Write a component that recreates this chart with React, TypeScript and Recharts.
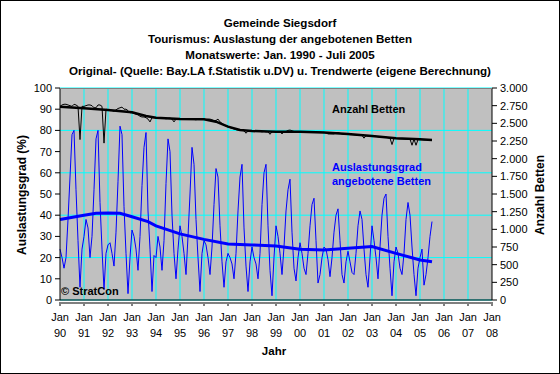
import React from 'react';
import {
  LineChart,
  Line,
  XAxis,
  YAxis,
  CartesianGrid,
  ReferenceLine,
} from 'recharts';

// Auslastungsgrad (%) monthly, Jan 1990 - Jul 2005
const RATE_1990 = [24, 20, 15, 20, 38, 58, 78, 80, 52, 28, 6, 24];
const RATE_1991 = [30, 38, 34, 20, 30, 52, 76, 80, 46, 24, 5, 22];
const RATE_1992 = [26, 27, 22, 16, 32, 56, 82, 78, 44, 22, 3, 20];
const RATE_1993 = [33, 30, 24, 14, 30, 54, 72, 79, 42, 24, 4, 21];
const RATE_1994 = [20, 30, 25, 14, 28, 55, 76, 70, 40, 22, 10, 24];
const RATE_1995 = [35, 30, 22, 12, 30, 50, 72, 64, 38, 20, 4, 22];
const RATE_1996 = [28, 26, 20, 12, 25, 45, 62, 58, 35, 18, 6, 18];
const RATE_1997 = [22, 20, 17, 10, 22, 42, 58, 64, 34, 16, 4, 18];
const RATE_1998 = [25, 20, 17, 10, 22, 45, 60, 64, 35, 14, 2, 20];
const RATE_1999 = [35, 30, 22, 12, 25, 42, 52, 57, 32, 15, 9, 20];
const RATE_2000 = [27, 22, 15, 12, 22, 35, 45, 48, 28, 8, 12, 20];
const RATE_2001 = [25, 24, 19, 11, 20, 32, 40, 43, 28, 12, 8, 18];
const RATE_2002 = [23, 18, 13, 12, 22, 35, 42, 38, 24, 12, 6, 20];
const RATE_2003 = [35, 28, 20, 10, 25, 40, 48, 50, 30, 15, 2, 18];
const RATE_2004 = [25, 22, 15, 12, 22, 38, 46, 40, 25, 12, 2, 15];
const RATE_2005 = [20, 24, 7, 12, 20, 30, 37];

// Anzahl Betten monthly
const BEDS_1990 = [2740, 2760, 2770, 2770, 2760, 2750, 2740, 2770, 2760, 2740, 2270, 2740];
const BEDS_1991 = [2740, 2750, 2760, 2760, 2750, 2720, 2720, 2760, 2760, 2740, 2220, 2700];
const BEDS_1992 = [2690, 2680, 2680, 2670, 2690, 2710, 2720, 2730, 2700, 2700, 2680, 2650];
const BEDS_1993 = [2650, 2640, 2630, 2620, 2600, 2590, 2590, 2580, 2560, 2520, 2580, 2580];
const BEDS_1994 = [2580, 2575, 2570, 2570, 2570, 2565, 2570, 2575, 2560, 2520, 2560, 2565];
const BEDS_1995 = [2560, 2560, 2565, 2560, 2555, 2560, 2560, 2555, 2550, 2560, 2555, 2555];
const BEDS_1996 = [2555, 2555, 2560, 2560, 2550, 2540, 2540, 2560, 2520, 2500, 2480, 2460];
const BEDS_1997 = [2450, 2440, 2430, 2420, 2410, 2405, 2400, 2400, 2395, 2360, 2390, 2395];
const BEDS_1998 = [2390, 2390, 2385, 2385, 2385, 2380, 2385, 2380, 2380, 2345, 2380, 2385];
const BEDS_1999 = [2382, 2382, 2380, 2350, 2380, 2385, 2400, 2405, 2395, 2385, 2380, 2380];
const BEDS_2000 = [2380, 2380, 2378, 2378, 2375, 2375, 2380, 2385, 2378, 2375, 2375, 2372];
const BEDS_2001 = [2372, 2365, 2350, 2350, 2350, 2350, 2365, 2370, 2360, 2350, 2345, 2348];
const BEDS_2002 = [2345, 2340, 2340, 2338, 2335, 2330, 2335, 2330, 2290, 2325, 2320, 2320];
const BEDS_2003 = [2320, 2318, 2315, 2310, 2305, 2300, 2310, 2305, 2295, 2290, 2200, 2285];
const BEDS_2004 = [2285, 2282, 2280, 2280, 2278, 2276, 2280, 2275, 2190, 2275, 2190, 2270];
const BEDS_2005 = [2268, 2268, 2265, 2265, 2264, 2264, 2264];

// trend values read at some months (month index from Jan 1990)
const RATE_TREND_MONTHS = [0, 12, 18, 24, 30, 36, 44, 48, 60, 72, 84, 96, 108, 120, 132, 144, 156, 168, 180, 186];
const RATE_TREND = [38, 40, 40.9, 41, 40.9, 39.3, 37, 35, 31.2, 28.6, 26.4, 26, 25.5, 23.9, 23.6, 24.4, 25.2, 22, 18.9, 18];
const BEDS_TREND_MONTHS = [0, 12, 24, 36, 43, 48, 60, 72, 78, 84, 90, 96, 108, 120, 132, 144, 156, 168, 180, 186];
const BEDS_TREND = [2736, 2712, 2689, 2656, 2604, 2580, 2561, 2557, 2523, 2453, 2406, 2391, 2382, 2382, 2372, 2349, 2321, 2288, 2274, 2264];

const YEAR_LABELS = ['90', '91', '92', '93', '94', '95', '96', '97', '98', '99', '00', '01', '02', '03', '04', '05', '06', '07', '08'];
const RATE_TICKS = [0, 10, 20, 30, 40, 50, 60, 70, 80, 90, 100];
const BEDS_TICKS = [0, 250, 500, 750, 1000, 1250, 1500, 1750, 2000, 2250, 2500, 2750, 3000];

const rate = [
  ...RATE_1990, ...RATE_1991, ...RATE_1992, ...RATE_1993, ...RATE_1994, ...RATE_1995,
  ...RATE_1996, ...RATE_1997, ...RATE_1998, ...RATE_1999, ...RATE_2000, ...RATE_2001,
  ...RATE_2002, ...RATE_2003, ...RATE_2004, ...RATE_2005,
];
const beds = [
  ...BEDS_1990, ...BEDS_1991, ...BEDS_1992, ...BEDS_1993, ...BEDS_1994, ...BEDS_1995,
  ...BEDS_1996, ...BEDS_1997, ...BEDS_1998, ...BEDS_1999, ...BEDS_2000, ...BEDS_2001,
  ...BEDS_2002, ...BEDS_2003, ...BEDS_2004, ...BEDS_2005,
];

const data = rate.map((r, i) => {
  const ri = RATE_TREND_MONTHS.indexOf(i);
  const bi = BEDS_TREND_MONTHS.indexOf(i);
  return {
    m: i,
    rate: r,
    beds: beds[i],
    rateTrend: ri >= 0 ? RATE_TREND[ri] : null,
    bedsTrend: bi >= 0 ? BEDS_TREND[bi] : null,
  };
});

const monthTicks = Array.from({ length: YEAR_LABELS.length * 12 - 11 }, (_, i) => i);
const yearTicks = YEAR_LABELS.map((_, i) => i * 12);

const FONT = '"Liberation Sans", Arial, sans-serif';

const fmtDe = (v: number) => String(v).replace(/\B(?=(\d{3})+(?!\d))/g, '.');

const MonthTick = (props: any) => {
  const { x, y, payload } = props;
  const v = payload.value as number;
  const isYear = v % 12 === 0;
  return (
    <g>
      <line x1={x} y1={y} x2={x} y2={y + (isYear ? 4 : 2)} stroke="#000" />
      {isYear && (
        <text x={x} y={y + 19} textAnchor="middle" fontSize={11} fontFamily={FONT} fill="#000">
          <tspan x={x}>Jan</tspan>
          <tspan x={x} dy={16}>{YEAR_LABELS[v / 12]}</tspan>
        </text>
      )}
    </g>
  );
};

const bold: React.CSSProperties = { fontFamily: FONT, fontWeight: 'bold', fontSize: 11, position: 'absolute', whiteSpace: 'nowrap' };

export default function App() {
  return (
    <div style={{ position: 'fixed', left: 0, top: 0, width: 560, height: 374, background: '#fff' }}>
      <LineChart width={560} height={374} data={data} margin={{ top: 88, right: 0, bottom: 0, left: 0 }}>
        <CartesianGrid fill="#C0C0C0" stroke="#00FFFF" vertical={false} horizontalValues={RATE_TICKS} />
        {yearTicks.slice(1, -1).map((t) => (
          <ReferenceLine key={t} x={t} stroke="#00FFFF" strokeWidth={1} />
        ))}
        <XAxis
          dataKey="m"
          type="number"
          domain={[0, 216]}
          ticks={monthTicks}
          interval={0}
          height={74}
          tickSize={0}
          tickLine={false}
          tick={<MonthTick />}
          axisLine={{ stroke: '#000' }}
        />
        <YAxis
          domain={[0, 100]}
          ticks={RATE_TICKS}
          width={60}
          tickSize={5}
          tickMargin={3}
          tick={{ fontSize: 11, fill: '#000', fontFamily: FONT }}
          tickLine={{ stroke: '#000' }}
          axisLine={{ stroke: '#000' }}
        />
        <YAxis
          yAxisId="right"
          orientation="right"
          domain={[0, 3000]}
          ticks={BEDS_TICKS}
          width={68}
          tickSize={5}
          tickMargin={3}
          tickFormatter={fmtDe}
          tick={{ fontSize: 11, fill: '#000', fontFamily: FONT }}
          tickLine={{ stroke: '#000' }}
          axisLine={{ stroke: '#000' }}
        />
        <Line yAxisId="right" dataKey="beds" stroke="#000" strokeWidth={1} dot={false} type="linear" isAnimationActive={false} />
        <Line yAxisId="right" dataKey="bedsTrend" stroke="#000" strokeWidth={2.5} dot={false} type="linear" connectNulls isAnimationActive={false} />
        <Line dataKey="rate" stroke="#0000FF" strokeWidth={1} dot={false} type="linear" isAnimationActive={false} />
        <Line dataKey="rateTrend" stroke="#0000FF" strokeWidth={3} dot={false} type="linear" connectNulls isAnimationActive={false} />
      </LineChart>

      <div style={{ position: 'absolute', left: 0, top: 15, width: 560, textAlign: 'center', fontFamily: FONT, fontWeight: 'bold', fontSize: 11.6, lineHeight: '16px' }}>
        <div>Gemeinde Siegsdorf</div>
        <div>Tourismus: Auslastung der angebotenen Betten</div>
        <div>Monatswerte: Jan. 1990 - Juli 2005</div>
        <div>Original- (Quelle: Bay.LA f.Statistik u.DV) u. Trendwerte (eigene Berechnung)</div>
      </div>

      <div style={{ ...bold, left: 332, top: 103 }}>Anzahl Betten</div>
      <div style={{ ...bold, left: 332, top: 160, color: '#0000FF', lineHeight: '14px' }}>
        Auslastungsgrad<br />angebotene Betten
      </div>
      <div style={{ ...bold, left: 61, top: 285 }}>© StratCon</div>
      <div style={{ ...bold, fontSize: 11.5, left: 244, top: 345, width: 60, textAlign: 'center' }}>Jahr</div>
      <div style={{ ...bold, fontSize: 12, left: 22, top: 195, transform: 'translate(-50%, -50%) rotate(-90deg)' }}>Auslastungsgrad (%)</div>
      <div style={{ ...bold, fontSize: 12, left: 540, top: 195, transform: 'translate(-50%, -50%) rotate(-90deg)' }}>Anzahl Betten</div>

      <div style={{ position: 'absolute', left: 60, top: 88, width: 432, height: 0, borderTop: '1px solid #808080' }} />
      <div style={{ position: 'absolute', inset: 0, border: '1px solid #000', pointerEvents: 'none' }} />
    </div>
  );
}
